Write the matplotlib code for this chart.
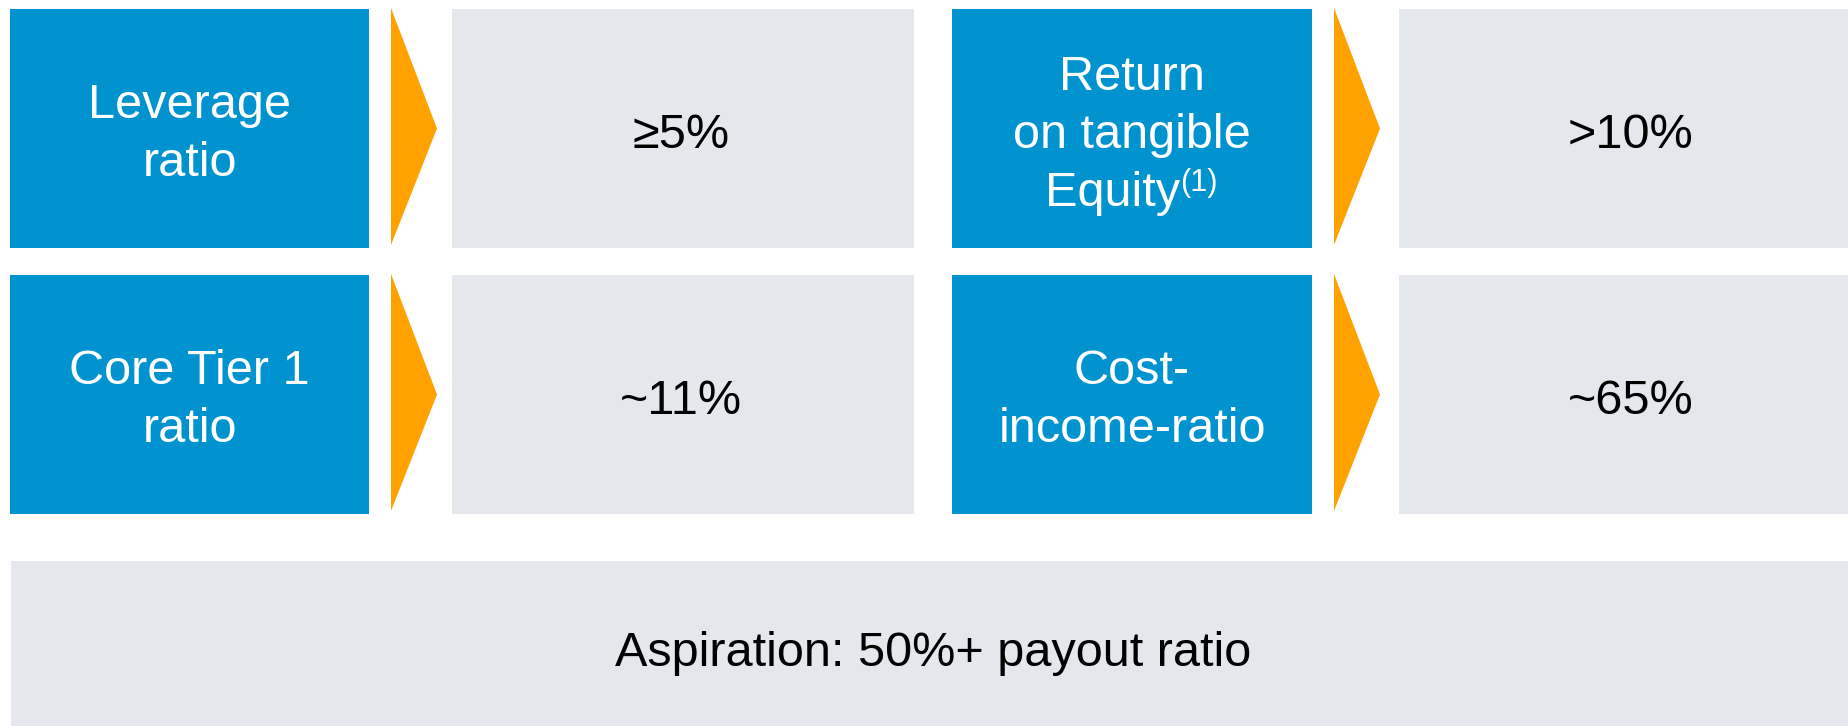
import matplotlib
matplotlib.use("Agg")
from matplotlib import pyplot as plt
from matplotlib.patches import Rectangle, Polygon

plt.rcParams['font.family'] = ['Liberation Sans', 'DejaVu Sans']

# targets, row by row (left pair, right pair)
row1_labels = [["Leverage", "ratio"], ["Return", "on tangible", "Equity"]]
row1_notes = [None, "(1)"]
row1_values = ["≥5%", ">10%"]
row2_labels = [["Core Tier 1", "ratio"], ["Cost-", "income-ratio"]]
row2_notes = [None, None]
row2_values = ["~11%", "~65%"]
footer_text = "Aspiration: 50%+ payout ratio"

BLUE = "#0093D0"
ORANGE = "#FFA200"
GRAY = "#E4E8ED"

W, H = 1848, 726
FS = 35
LINE = 58  # px between baselines


def draw_row(ax, labels, notes, values, top, bottom):
    # x spans of each block: blue label, orange arrow, gray value, value text x
    blocks = [(10, 369, 391, 437, 452, 914, 681), (952, 1312, 1334, 1380, 1399, W, 1631)]
    mid = (top + bottom) / 2
    for (bx0, bx1, ax0, ax1, gx0, gx1, vx), lines, note, val in zip(blocks, labels, notes, values):
        ax.add_patch(Rectangle((bx0, top), bx1 - bx0, bottom - top, color=BLUE, lw=0))
        ax.add_patch(Polygon([(ax0, top - 1), (ax1, mid), (ax0, bottom - 3)],
                             closed=True, color=ORANGE, lw=0))
        ax.add_patch(Rectangle((gx0, top), gx1 - gx0, bottom - top, color=GRAY, lw=0))
        cx = (bx0 + bx1) / 2
        n = len(lines)
        for i, line in enumerate(lines):
            y = mid + 19 + (i - (n - 1) / 2) * LINE
            last = (i == n - 1 and note is not None)
            t = ax.text(cx - (19 if last else 0), y, line, color="white", fontsize=FS,
                        ha="center", va="baseline")
            if last:
                ax.annotate(note, xy=(1, 1), xycoords=t, xytext=(0, 2),
                            textcoords="offset points", color="white",
                            fontsize=22, ha="left", va="top")
        ax.text(vx, mid + 20, val, color="black", fontsize=FS,
                ha="center", va="baseline")


fig = plt.figure(figsize=(W / 100, H / 100), dpi=100)
ax = fig.add_axes([0, 0, 1, 1])
ax.set_xlim(0, W)
ax.set_ylim(H, 0)
ax.axis("off")

draw_row(ax, row1_labels, row1_notes, row1_values, 9, 248)
draw_row(ax, row2_labels, row2_notes, row2_values, 275, 514)

ax.add_patch(Rectangle((11, 561), W - 11, H - 561, color=GRAY, lw=0))
ax.text(933, 654, footer_text, color="black", fontsize=FS, ha="center", va="center")

fig.savefig("out.png", dpi=100, facecolor="white")
